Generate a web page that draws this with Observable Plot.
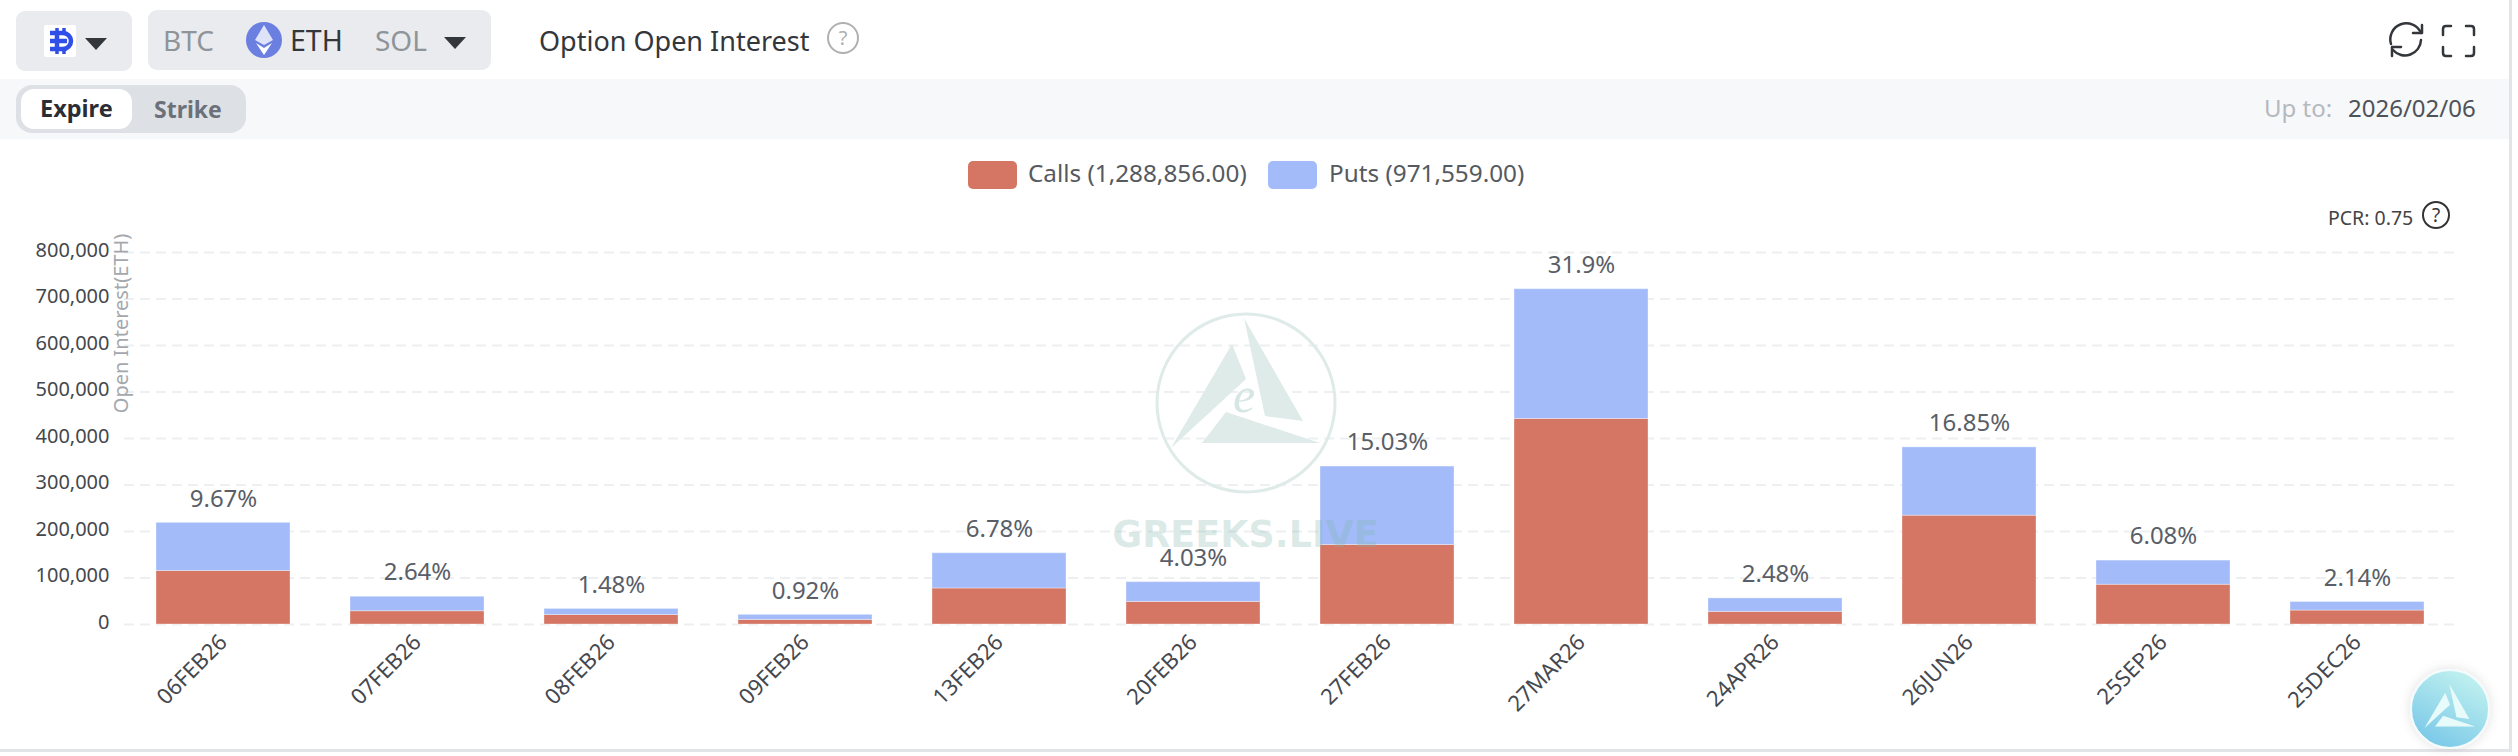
<!DOCTYPE html>
<html>
<head>
<meta charset="utf-8">
<script src="https://cdn.jsdelivr.net/npm/d3@7"></script>
<script src="https://cdn.jsdelivr.net/npm/@observablehq/plot@0.6"></script>
<style>
  html, body { margin: 0; padding: 0; background: #fff; }
  body { width: 2518px; height: 756px; position: relative; overflow: hidden; font-family: "Noto Sans", sans-serif; }
  .abs { position: absolute; white-space: nowrap; }
  .t { line-height: 1; transform: translateY(-50%); }
  #plot { position: absolute; left: 0; top: 200px; }
  #plot svg { display: block; }
  svg.deco { position: absolute; left: 0; top: 0; pointer-events: none; }
</style>
</head>
<body>
<!-- toolbar and frame -->
<div class="abs" style="left:0;top:79px;width:2509px;height:60px;background:#f7f8fa"></div>
<div class="abs" style="left:2509px;top:0;width:3px;height:752px;background:#e3e4e8"></div>
<div class="abs" style="left:0;top:749px;width:2512px;height:3px;background:#e3e4e8"></div>
<div class="abs" style="left:16px;top:11px;width:116px;height:60px;background:#e9ebef;border-radius:9px"></div>
<div class="abs" style="left:148px;top:10px;width:343px;height:60px;background:#e9ebef;border-radius:9px"></div>
<div class="abs" style="left:44px;top:25px;width:32px;height:32px;background:#fff;border-radius:2px"></div>
<div class="abs t" style="left:163px;top:40px;font-size:28px;color:#8f9499">BTC</div>
<div class="abs t" style="left:290px;top:40px;font-size:28.5px;color:#33363b">ETH</div>
<div class="abs t" style="left:375px;top:40px;font-size:28px;color:#8f9499">SOL</div>
<div class="abs t" style="left:539px;top:40px;font-size:27px;color:#33363b">Option Open Interest</div>
<div class="abs t" style="left:2264px;top:108px;font-size:24px;color:#b5b8bd">Up to:</div>
<div class="abs t" style="left:2348px;top:108px;font-size:24px;color:#4e5259">2026/02/06</div>
<div class="abs" style="left:16px;top:85px;width:230px;height:48px;background:#dde0e5;border-radius:16px"></div>
<div class="abs" style="left:21px;top:89px;width:111px;height:40px;background:#fff;border-radius:13px"></div>
<div class="abs t" style="left:40px;top:109px;font-size:23.5px;font-weight:700;color:#2a2d33">Expire</div>
<div class="abs t" style="left:154px;top:109px;font-size:23px;font-weight:700;color:#6b7079">Strike</div>

<!-- legend -->
<div class="abs" style="left:968px;top:161px;width:49px;height:28px;background:#d57563;border-radius:5px"></div>
<div class="abs t" style="left:1028px;top:173px;font-size:24.3px;color:#555a60">Calls (1,288,856.00)</div>
<div class="abs" style="left:1268px;top:161px;width:49px;height:28px;background:#a3bbf8;border-radius:5px"></div>
<div class="abs t" style="left:1329px;top:173px;font-size:24.3px;color:#555a60">Puts (971,559.00)</div>
<div class="abs t" style="left:2328px;top:218px;font-size:19.5px;color:#444">PCR: 0.75</div>

<div id="plot"></div>

<svg class="deco" width="2518" height="756" viewBox="0 0 2518 756">
  <defs>
    <g id="logo">
      <path d="M1232 344 L1246 379 L1171 448 Z"/>
      <path d="M1244 318 L1303 421 L1265 416 Z"/>
      <path d="M1226 412 L1320 443 L1202 443 Z"/>
    </g>
    <linearGradient id="badge" x1="0.8" y1="0.1" x2="0.3" y2="1">
      <stop offset="0" stop-color="#bff0ef"/>
      <stop offset="1" stop-color="#79c8e8"/>
    </linearGradient>
    <filter id="soft" x="-30%" y="-30%" width="160%" height="160%">
      <feDropShadow dx="0" dy="0" stdDeviation="6" flood-color="#000" flood-opacity="0.12"/>
    </filter>
  </defs>

  <!-- toolbar icons -->
  <g fill="none" stroke="#2f4fe8" stroke-width="4.5">
    <path d="M50 33 H63 A8 8 0 0 1 63 49 H50"/>
    <path d="M50 41 H67 M57 33 V49"/>
    <path d="M57 28 V33 M64 28 V33 M57 49 V54 M64 49 V54" stroke-width="3.5"/>
  </g>
  <path d="M85 38 H107 L96 50 Z" fill="#33363b"/>
  <path d="M444 37 H466 L455 49 Z" fill="#33363b"/>
  <circle cx="264" cy="40" r="18" fill="#6b7fe0"/>
  <path d="M264 25 L273 40 L264 45 L255 40 Z" fill="#dfe3fa"/>
  <path d="M264 48 L272 43 L264 55 L256 43 Z" fill="#fff"/>
  <circle cx="843" cy="38" r="15" fill="none" stroke="#b0b0b0" stroke-width="2"/>
  <text x="843" y="45" font-size="20" text-anchor="middle" fill="#b0b0b0" font-family="Noto Sans">?</text>
  <g fill="none" stroke="#33363b" stroke-width="2.5" stroke-linecap="round" stroke-linejoin="round">
    <path d="M2391 44 A16 16 0 0 1 2421 33"/>
    <path d="M2422 25 V33 H2413"/>
    <path d="M2421 40 A16 16 0 0 1 2393 50"/>
    <path d="M2392 56 V47 H2401"/>
  </g>
  <g fill="none" stroke="#33363b" stroke-width="2.5" stroke-linecap="round" stroke-linejoin="round">
    <path d="M2443 35 V29 Q2443 26 2446 26 H2451"/>
    <path d="M2466 26 H2471 Q2474 26 2474 29 V35"/>
    <path d="M2443 47 V53 Q2443 56 2446 56 H2451"/>
    <path d="M2466 56 H2471 Q2474 56 2474 53 V47"/>
  </g>
  <circle cx="2436" cy="215" r="13" fill="none" stroke="#333" stroke-width="2"/>
  <text x="2436" y="222" font-size="19" text-anchor="middle" fill="#333" font-family="Noto Sans">?</text>

  <!-- watermark over the bars -->
  <circle cx="1246" cy="403" r="89" fill="none" stroke="#deebe9" stroke-width="3"/>
  <use href="#logo" fill="#deebe9"/>
  <text x="1244" y="412" font-size="50" font-style="italic" text-anchor="middle" fill="#d6e6e3" font-family="Liberation Serif">e</text>
  <text x="1245.5" y="547" font-size="36.5" font-weight="700" text-anchor="middle" fill="#7fb5ad" fill-opacity="0.28" font-family="DejaVu Sans">GREEKS.LIVE</text>

  <!-- floating badge -->
  <circle cx="2450" cy="709" r="39" fill="url(#badge)" stroke="#f4fbfc" stroke-width="2" filter="url(#soft)"/>
  <g transform="translate(2450 706) scale(0.34) translate(-1246 -383)">
    <use href="#logo" fill="#e8fbfb"/>
  </g>
</svg>

<script>
const expiries = ["06FEB26", "07FEB26", "08FEB26", "09FEB26", "13FEB26", "20FEB26", "27FEB26", "27MAR26", "24APR26", "26JUN26", "25SEP26", "25DEC26"];
const calls = [115000, 28500, 20500, 9800, 77500, 48500, 171000, 442000, 27000, 234000, 85500, 30000];
const puts = [103600, 31200, 13000, 11000, 75800, 42600, 168700, 279100, 29100, 146900, 51900, 18400];
const shares = ["9.67%", "2.64%", "1.48%", "0.92%", "6.78%", "4.03%", "15.03%", "31.9%", "2.48%", "16.85%", "6.08%", "2.14%"];
const yTicks = [0, 100000, 200000, 300000, 400000, 500000, 600000, 700000, 800000];

const rows = [];
expiries.forEach((e, i) => {
  rows.push({ expiry: e, side: "Calls", oi: calls[i] });
  rows.push({ expiry: e, side: "Puts", oi: puts[i] });
});
const totals = expiries.map((e, i) => ({ expiry: e, total: calls[i] + puts[i], share: shares[i] }));

const chart = Plot.plot({
  width: 2518,
  height: 556,
  marginLeft: 124,
  marginRight: 62,
  marginTop: 52,
  marginBottom: 132,
  style: { fontFamily: "Noto Sans", background: "transparent" },
  x: { type: "band", domain: expiries, paddingInner: 0.31, paddingOuter: 0.155, label: null },
  y: { domain: [0, 800000], label: null },
  color: { domain: ["Calls", "Puts"], range: ["#d57563", "#a3bbf8"] },
  marks: [
    Plot.gridY(yTicks, { stroke: "#eeeff1", strokeOpacity: 1, strokeWidth: 2, strokeDasharray: "10,6" }),
    Plot.axisY(yTicks, {
      tickSize: 0, tickPadding: 15, tickFormat: d3.format(","), label: null,
      fontSize: 20, fill: "#44474d", dy: -2
    }),
    Plot.axisX({
      tickSize: 0, tickPadding: 14, tickRotate: -45, label: null,
      fontSize: 22, fill: "#44484f"
    }),
    Plot.barY(rows, { x: "expiry", y: "oi", fill: "side", order: ["Calls", "Puts"], stroke: "#fff", strokeOpacity: 0.35, strokeWidth: 1 }),
    Plot.text(totals, {
      x: "expiry", y: "total", text: "share", dy: -24,
      fontSize: 24, fill: "#5a5e66"
    }),
    Plot.text(["Open Interest(ETH)"], {
      frameAnchor: "top-left", textAnchor: "middle", lineAnchor: "middle", rotate: -90, dx: -3, dy: 71,
      fontSize: 20, fill: "#a4a8ad"
    })
  ]
});
document.getElementById("plot").appendChild(chart);
</script>
</body>
</html>
